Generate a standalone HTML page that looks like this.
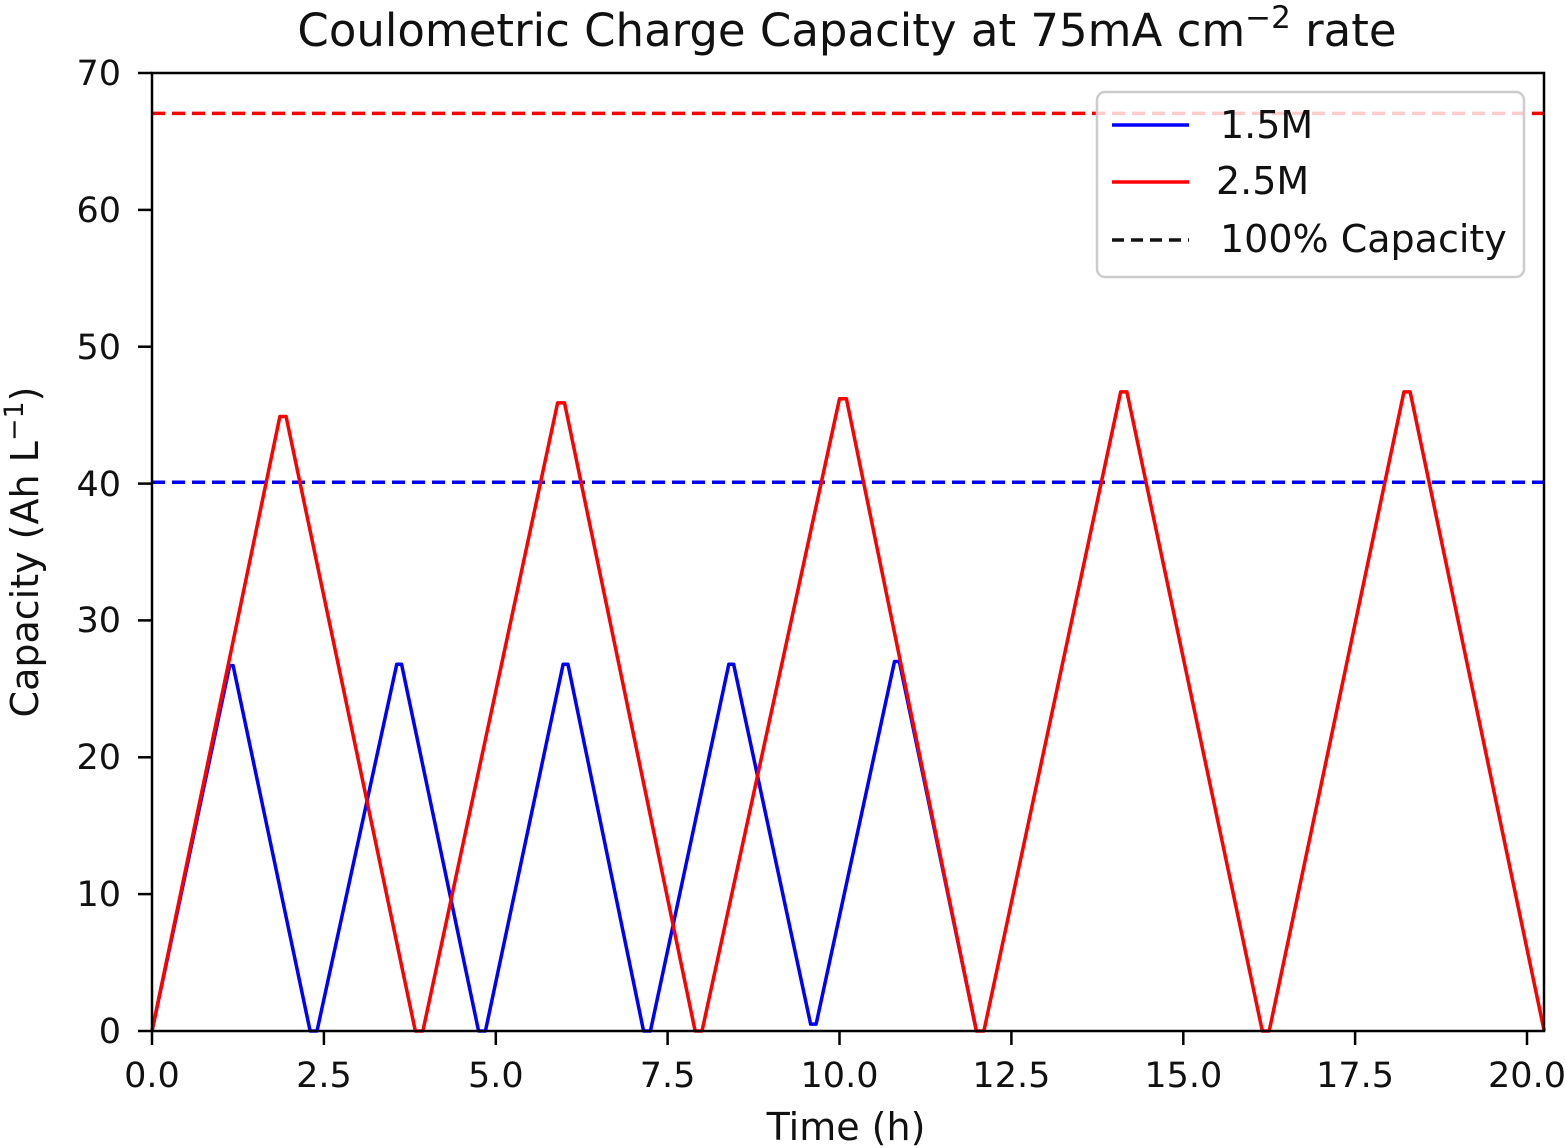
<!DOCTYPE html>
<html><head><meta charset="utf-8"><style>
html,body{margin:0;padding:0;background:#fff;}
svg{display:block;font-family:"DejaVu Sans","Liberation Sans",sans-serif;}
</style></head><body>
<svg width="1566" height="1148" viewBox="0 0 1566 1148" xmlns="http://www.w3.org/2000/svg">
<rect width="1566" height="1148" fill="#fff"/>
<text x="847" y="46" font-size="45" text-anchor="middle" fill="#111">Coulometric Charge Capacity at 75mA cm<tspan dy="-18" font-size="31">−2</tspan><tspan dy="18"> rate</tspan></text>

<g transform="translate(152,1031) scale(68.75,-13.686)" fill="none" stroke-linejoin="round">
<line x1="0" y1="67.05" x2="20.25" y2="67.05" stroke="#ff0000" stroke-width="3.5" stroke-dasharray="13,7" vector-effect="non-scaling-stroke"/>
<line x1="0" y1="40.1" x2="20.25" y2="40.1" stroke="#0000ff" stroke-width="3.5" stroke-dasharray="13,7" vector-effect="non-scaling-stroke"/>
<polyline stroke="#0000ff" stroke-width="3.5" vector-effect="non-scaling-stroke" points="0,0 1.13,26.7 1.18,26.7 2.3,0 2.4,0 3.56,26.8 3.63,26.8 4.75,0 4.85,0 5.98,26.8 6.05,26.8 7.15,0 7.25,0 8.39,26.8 8.46,26.8 9.58,0.5 9.66,0.5 10.8,27 10.87,27 11.98,0.3"/>
<polyline stroke="#ff0000" stroke-width="3.5" vector-effect="non-scaling-stroke" points="0,0 1.86,44.9 1.95,44.9 3.83,0 3.94,0 5.9,45.9 6.0,45.9 7.9,0 8.0,0 10.0,46.2 10.1,46.2 11.99,0 12.1,0 14.09,46.7 14.18,46.7 16.15,0 16.25,0 18.21,46.7 18.3,46.7 20.25,0"/>
</g>

<rect x="152" y="73" width="1392" height="958" fill="none" stroke="#000" stroke-width="2.5"/>

<g stroke="#000" stroke-width="2.5">
<line x1="152" y1="1031" x2="152" y2="1045"/>
<line x1="323.9" y1="1031" x2="323.9" y2="1045"/>
<line x1="495.8" y1="1031" x2="495.8" y2="1045"/>
<line x1="667.6" y1="1031" x2="667.6" y2="1045"/>
<line x1="839.5" y1="1031" x2="839.5" y2="1045"/>
<line x1="1011.4" y1="1031" x2="1011.4" y2="1045"/>
<line x1="1183.3" y1="1031" x2="1183.3" y2="1045"/>
<line x1="1355.1" y1="1031" x2="1355.1" y2="1045"/>
<line x1="1527" y1="1031" x2="1527" y2="1045"/>
<line x1="138" y1="1031" x2="152" y2="1031"/>
<line x1="138" y1="894.1" x2="152" y2="894.1"/>
<line x1="138" y1="757.3" x2="152" y2="757.3"/>
<line x1="138" y1="620.4" x2="152" y2="620.4"/>
<line x1="138" y1="483.6" x2="152" y2="483.6"/>
<line x1="138" y1="346.7" x2="152" y2="346.7"/>
<line x1="138" y1="209.9" x2="152" y2="209.9"/>
<line x1="138" y1="73" x2="152" y2="73"/>
</g>
<g font-size="35" fill="#111" text-anchor="middle">
<text x="152" y="1087">0.0</text>
<text x="323.9" y="1087">2.5</text>
<text x="495.8" y="1087">5.0</text>
<text x="667.6" y="1087">7.5</text>
<text x="839.5" y="1087">10.0</text>
<text x="1011.4" y="1087">12.5</text>
<text x="1183.3" y="1087">15.0</text>
<text x="1355.1" y="1087">17.5</text>
<text x="1527" y="1087">20.0</text>
</g>
<g font-size="35" fill="#111" text-anchor="end">
<text x="121" y="1043">0</text>
<text x="121" y="906">10</text>
<text x="121" y="769">20</text>
<text x="121" y="632">30</text>
<text x="121" y="496">40</text>
<text x="121" y="359">50</text>
<text x="121" y="222">60</text>
<text x="121" y="85">70</text>
</g>
<text x="846" y="1140" font-size="38" text-anchor="middle" fill="#111">Time (h)</text>
<text transform="translate(38,552) rotate(-90)" font-size="38" text-anchor="middle" fill="#111">Capacity (Ah L<tspan dy="-15" font-size="27">−1</tspan><tspan dy="15">)</tspan></text>

<rect x="1097" y="92" width="427" height="185" rx="8" fill="#fff" fill-opacity="0.8" stroke="#ccc" stroke-width="2.5"/>
<line x1="1112" y1="125" x2="1189" y2="125" stroke="#0000ff" stroke-width="3.5"/>
<line x1="1112" y1="182" x2="1189" y2="182" stroke="#ff0000" stroke-width="3.5"/>
<line x1="1112" y1="240" x2="1189" y2="240" stroke="#111" stroke-width="3.5" stroke-dasharray="12,7"/>
<g font-size="38" fill="#111">
<text x="1220" y="138">1.5M</text>
<text x="1216" y="194">2.5M</text>
<text x="1220" y="252">100% Capacity</text>
</g>
</svg>
</body></html>
